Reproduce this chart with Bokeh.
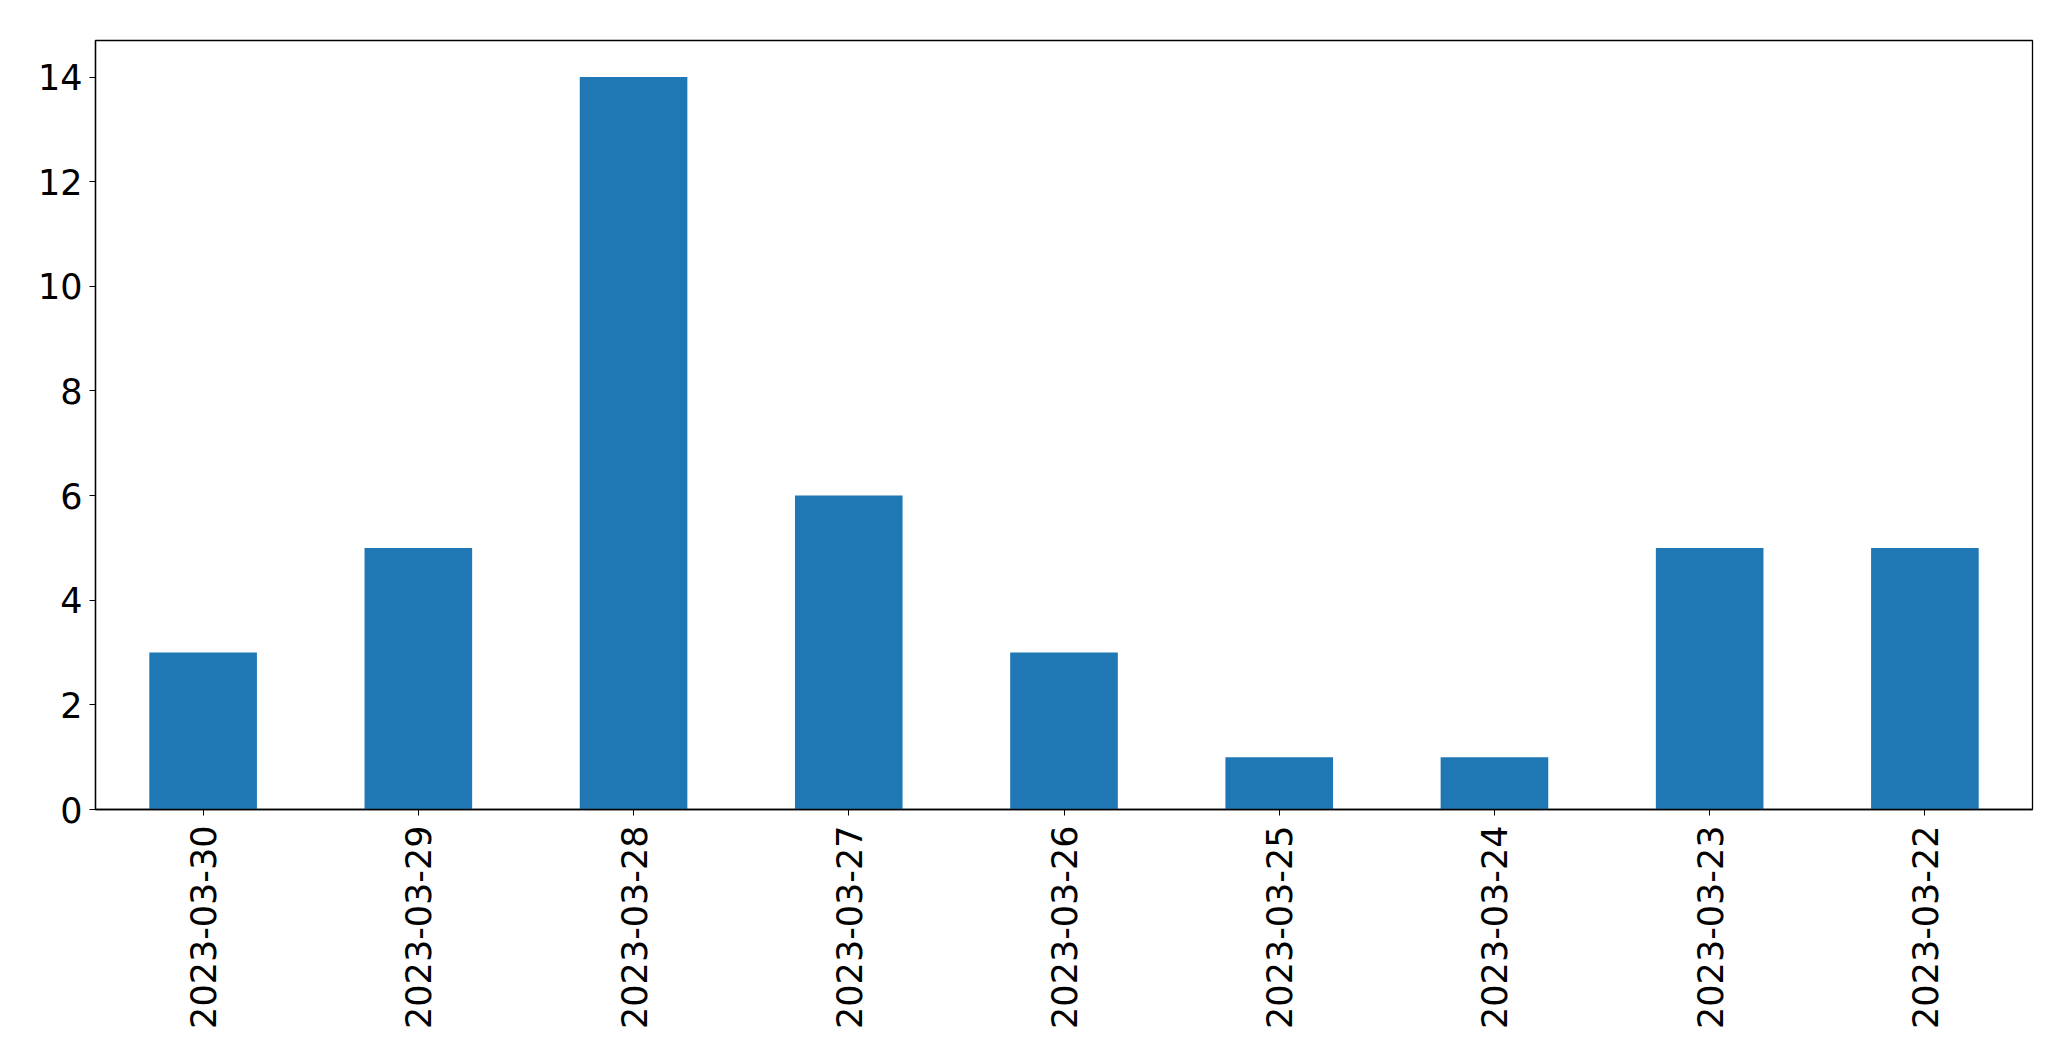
import math
from bokeh.plotting import figure
from bokeh.models import FactorRange, Range1d, FixedTicker
from bokeh.embed import file_html
from bokeh.resources import INLINE

dates = ["2023-03-30", "2023-03-29", "2023-03-28", "2023-03-27", "2023-03-26",
         "2023-03-25", "2023-03-24", "2023-03-23", "2023-03-22"]
counts = [3, 5, 14, 6, 3, 1, 1, 5, 5]
y_ticks = [0, 2, 4, 6, 8, 10, 12, 14]

p = figure(width=2060, height=1045, output_backend="svg", toolbar_location=None,
           x_range=FactorRange(factors=dates, range_padding=0),
           y_range=Range1d(0, 14.7))
p.min_border_left = 95
p.min_border_top = 40
p.min_border_right = 28
p.min_border_bottom = 236

p.vbar(x=dates, top=counts, width=0.5, color="#1f77b4", line_color=None)

p.xgrid.visible = False
p.ygrid.visible = False
p.outline_line_color = "black"
p.outline_line_width = 1.3
p.background_fill_color = "white"
p.border_fill_color = "white"

for ax in (p.xaxis[0], p.yaxis[0]):
    ax.axis_line_color = "black"
    ax.axis_line_width = 1.3
    ax.major_tick_out = 6
    ax.major_tick_in = 0
    ax.minor_tick_out = 0
    ax.minor_tick_in = 0
    ax.major_tick_line_color = "black"
    ax.major_label_text_font = "DejaVu Sans"
    ax.major_label_text_font_size = "35px"
    ax.major_label_text_color = "black"

p.yaxis[0].ticker = FixedTicker(ticks=y_ticks)
p.yaxis[0].major_label_standoff = 7
p.xaxis[0].major_label_orientation = math.pi / 2
p.xaxis[0].major_label_standoff = 10
p.xaxis[0].group_text_font_size = "0px"

open("out.html", "w").write(file_html(p, INLINE))
